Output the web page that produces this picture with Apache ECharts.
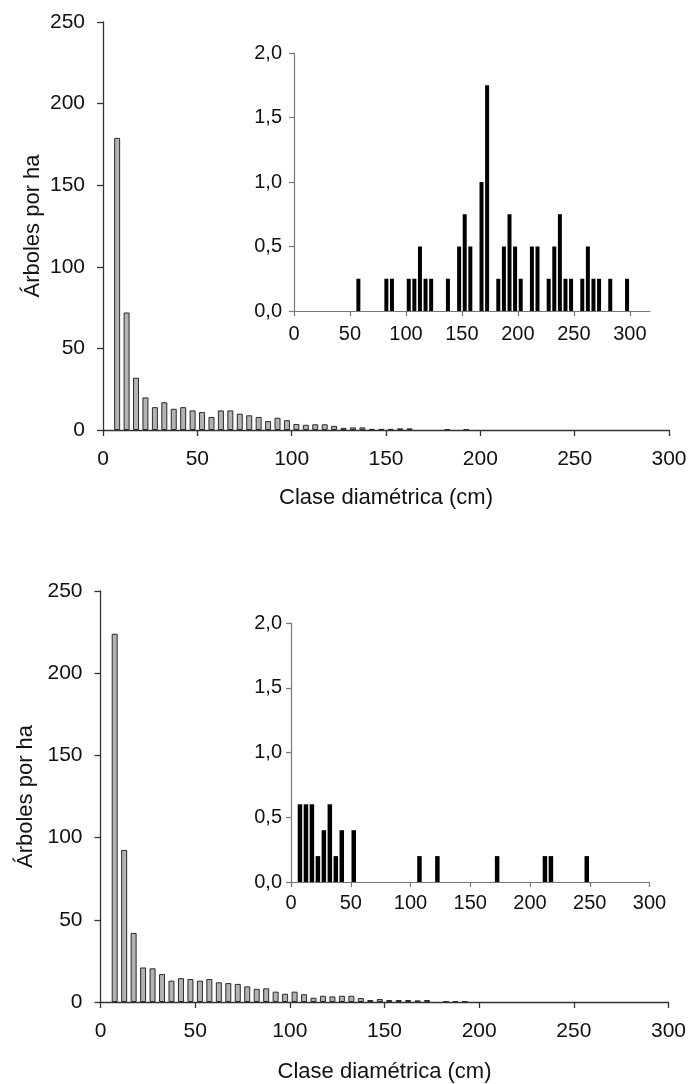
<!DOCTYPE html>
<html>
<head>
<meta charset="utf-8">
<script src="https://cdn.jsdelivr.net/npm/echarts@6/dist/echarts.min.js"></script>
<style>
html,body{margin:0;padding:0;background:#fff;}
#chart{width:692px;height:1084px;}
</style>
</head>
<body>
<div id="chart"></div>
<script>
// ---- Data ----
// Main charts: diameter class midpoints (cm)
const mainClasses = [7.5,12.5,17.5,22.5,27.5,32.5,37.5,42.5,47.5,52.5,57.5,62.5,67.5,72.5,77.5,82.5,87.5,92.5,97.5,102.5,107.5,112.5,117.5,122.5,127.5,132.5,137.5,142.5,147.5,152.5,157.5,162.5,167.5,172.5,177.5,182.5,187.5,192.5];
// Top main chart values (trees per ha)
const topMainValues = [179,72,32,20,14,17,13,14,12,11,8,12,12,10,9,8,5.5,7.5,6,3.7,3.2,3.5,3.5,2.5,1.3,1.6,1.6,0.7,0.7,0.7,1.0,1.0,0,0,0,0.6,0,0.6];
// Bottom main chart values (trees per ha)
const bottomMainValues = [224,92.5,42,21,20.5,17,13,14.5,14,13,14,12,11.5,11,9.5,8,8.3,6.3,5,6.3,4.7,2.6,3.8,3.4,3.8,3.8,2.4,1.2,1.8,1.2,1.2,1.2,1.0,1.2,0,0.6,0.6,0.6];
// Top inset
const topInsetClasses = [57.5,82.5,87.5,102.5,107.5,112.5,117.5,122.5,137.5,147.5,152.5,157.5,167.5,172.5,182.5,187.5,192.5,197.5,202.5,212.5,217.5,227.5,232.5,237.5,242.5,247.5,257.5,262.5,267.5,272.5,282.5,297.5];
const topInsetValues  = [0.25,0.25,0.25,0.25,0.25,0.5,0.25,0.25,0.25,0.5,0.75,0.5,1.0,1.75,0.25,0.5,0.75,0.5,0.25,0.5,0.5,0.25,0.5,0.75,0.25,0.25,0.25,0.5,0.25,0.25,0.25,0.25];
// Bottom inset
const bottomInsetClasses = [7.5,12.5,17.5,22.5,27.5,32.5,37.5,42.5,52.5,107.5,122.5,172.5,212.5,217.5,247.5];
const bottomInsetValues  = [0.6,0.6,0.6,0.2,0.4,0.6,0.2,0.4,0.4,0.2,0.2,0.2,0.2,0.2,0.2];
// Tick labels
const mainXTicks = [0,50,100,150,200,250,300];
const insetXTicks = [0,50,100,150,200,250,300];
const yTitle = 'Árboles por ha';
const xTitle = 'Clase diamétrica (cm)';

function pairs(xs, ys){ return xs.map((x,i)=> ys[i] > 0 ? [x, ys[i]] : [x, null]); }
const FONT = '"Liberation Sans", Arial, sans-serif';
const comma = v => v.toFixed(1).replace('.', ',');

function mainX(gi, nameGap){
  return {
    gridIndex: gi, type: 'value', min: 0, max: 300, interval: 50,
    name: xTitle, nameLocation: 'middle', nameGap: nameGap, nameMoveOverlap: false,
    nameTextStyle: {fontFamily: FONT, fontSize: 22, color: '#111'},
    axisLine: {show: true, onZero: false, lineStyle: {color: '#333', width: 1.3}},
    axisTick: {show: true, length: 6, lineStyle: {color: '#333', width: 1.3}},
    axisLabel: {fontFamily: FONT, fontSize: 21, color: '#111', margin: 19, customValues: mainXTicks},
    splitLine: {show: false}
  };
}
function mainY(gi, nameGap){
  return {
    gridIndex: gi, type: 'value', min: 0, max: 250, interval: 50,
    name: yTitle, nameLocation: 'middle', nameGap: nameGap, nameMoveOverlap: false,
    nameTextStyle: {fontFamily: FONT, fontSize: 22, color: '#111'},
    axisLine: {show: true, lineStyle: {color: '#333', width: 1.3}},
    axisTick: {show: true, length: 6, lineStyle: {color: '#333', width: 1.3}},
    axisLabel: {fontFamily: FONT, fontSize: 21, color: '#111', margin: 18},
    splitLine: {show: false}
  };
}
function insetX(gi, max, margin){
  return {
    gridIndex: gi, type: 'value', min: 0, max: max, interval: 50,
    axisLine: {show: true, onZero: false, lineStyle: {color: '#777', width: 1.2}},
    axisTick: {show: true, length: 5, customValues: insetXTicks, lineStyle: {color: '#777', width: 1.2}},
    axisLabel: {fontFamily: FONT, fontSize: 20, color: '#111', margin: margin, customValues: insetXTicks},
    splitLine: {show: false}
  };
}
function insetY(gi, margin){
  return {
    gridIndex: gi, type: 'value', min: 0, max: 2, interval: 0.5,
    axisLine: {show: true, lineStyle: {color: '#777', width: 1.2}},
    axisTick: {show: true, length: 5, lineStyle: {color: '#777', width: 1.2}},
    axisLabel: {fontFamily: FONT, fontSize: 20, color: '#111', margin: margin, formatter: comma},
    splitLine: {show: false}
  };
}

const chart = echarts.init(document.getElementById('chart'), null, {renderer: 'canvas'});
chart.setOption({
  backgroundColor: '#fff',
  animation: false,
  grid: [
    {left: 103, top: 22, width: 566, height: 408},
    {left: 294, top: 53, width: 356, height: 258},
    {left: 100.5, top: 591, width: 568, height: 411.5},
    {left: 291, top: 623, width: 358.5, height: 259}
  ],
  xAxis: [mainX(0, 57), insetX(1, 318, 13), mainX(2, 59), insetX(3, 300, 11)],
  yAxis: [mainY(0, 59), insetY(1, 12), mainY(2, 64), insetY(3, 9)],
  series: [
    {type: 'bar', xAxisIndex: 0, yAxisIndex: 0, barWidth: 6, data: pairs(mainClasses, topMainValues),
     itemStyle: {color: '#b3b3b3', borderColor: '#2a2a2a', borderWidth: 1}},
    {type: 'bar', xAxisIndex: 1, yAxisIndex: 1, barWidth: 4, data: pairs(topInsetClasses, topInsetValues),
     itemStyle: {color: '#000'}},
    {type: 'bar', xAxisIndex: 2, yAxisIndex: 2, barWidth: 6, data: pairs(mainClasses, bottomMainValues),
     itemStyle: {color: '#b3b3b3', borderColor: '#2a2a2a', borderWidth: 1}},
    {type: 'bar', xAxisIndex: 3, yAxisIndex: 3, barWidth: 4.5, data: pairs(bottomInsetClasses, bottomInsetValues),
     itemStyle: {color: '#000'}}
  ]
});
</script>
</body>
</html>
